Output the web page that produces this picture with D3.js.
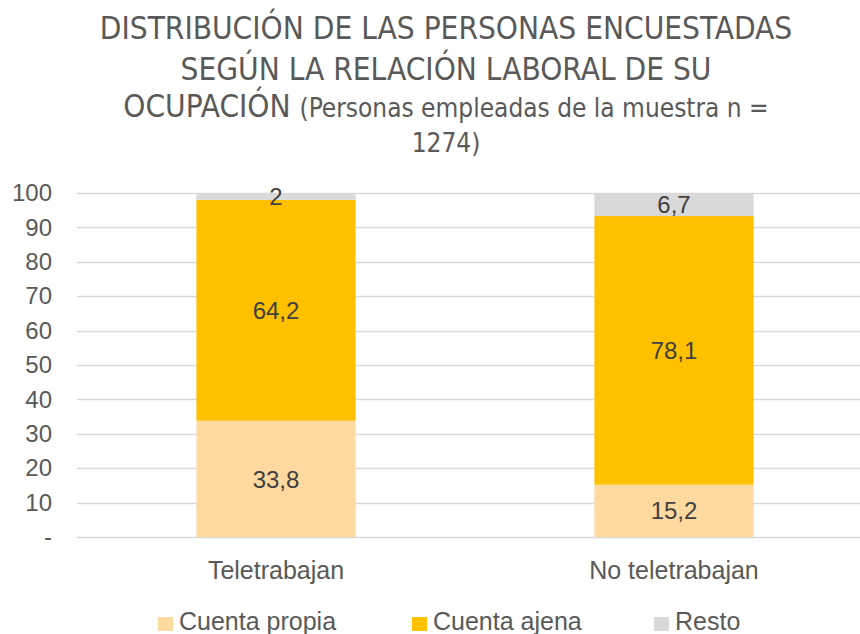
<!DOCTYPE html>
<html>
<head>
<meta charset="utf-8">
<script src="https://cdn.jsdelivr.net/npm/d3@7"></script>
<style>
  body { margin: 0; background: #fff; }
  svg { display: block; }
</style>
</head>
<body>
<div id="chart"></div>
<script>
var categories = ["Teletrabajan", "No teletrabajan"];
var seriesNames = ["Cuenta propia", "Cuenta ajena", "Resto"];
var cuentaPropia = [33.8, 15.2];
var cuentaAjena = [64.2, 78.1];
var resto = [2, 6.7];
var yTicks = [0, 10, 20, 30, 40, 50, 60, 70, 80, 90, 100];
var colors = ["#FFD9A0", "#FFC000", "#D9D9D9"];

var width = 860, height = 634;
var margin = { left: 77, right: -13, top: 193, bottom: 97 };
var textColor = "#595959";
var titleFont = "'Liberation Sans Narrow', 'DejaVu Sans Condensed', 'Liberation Sans', sans-serif";
var font = "'Liberation Sans', Arial, sans-serif";
var titleX = 446;

var svg = d3.select("#chart").append("svg")
    .attr("width", width)
    .attr("height", height);

// title
var title = svg.append("text")
    .attr("text-anchor", "middle")
    .attr("fill", textColor)
    .style("font-family", titleFont);
title.append("tspan").attr("x", titleX).attr("y", 39).style("font-size", "31.3px")
    .text("DISTRIBUCIÓN DE LAS PERSONAS ENCUESTADAS");
title.append("tspan").attr("x", titleX).attr("y", 80).style("font-size", "31.3px")
    .text("SEGÚN LA RELACIÓN LABORAL DE SU");
var l3 = svg.append("text")
    .attr("x", titleX).attr("y", 117)
    .attr("text-anchor", "middle")
    .attr("fill", textColor)
    .style("font-family", titleFont);
l3.append("tspan").style("font-size", "31.3px").text("OCUPACIÓN ");
l3.append("tspan").style("font-size", "26px").text("(Personas empleadas de la muestra n =");
svg.append("text")
    .attr("x", titleX).attr("y", 152)
    .attr("text-anchor", "middle")
    .attr("fill", textColor)
    .style("font-family", titleFont)
    .style("font-size", "26px")
    .text("1274)");

var x = d3.scaleBand()
    .domain(categories)
    .range([margin.left, width - margin.right])
    .padding(0);

var y = d3.scaleLinear()
    .domain([0, 100])
    .range([height - margin.bottom, margin.top]);

// gridlines
svg.append("g").selectAll("line")
    .data(yTicks)
    .enter().append("line")
    .attr("x1", margin.left)
    .attr("x2", width - margin.right)
    .attr("y1", function (d) { return Math.round(y(d)) + 0.5; })
    .attr("y2", function (d) { return Math.round(y(d)) + 0.5; })
    .attr("stroke", "#D9D9D9")
    .attr("stroke-width", 1.3);

// y axis labels
var yAxis = d3.axisLeft(y)
    .tickValues(yTicks)
    .tickSize(0)
    .tickPadding(0)
    .tickFormat(function (d) { return d === 0 ? "-" : d; });
var yg = svg.append("g")
    .attr("transform", "translate(52,0)")
    .call(yAxis);
yg.select(".domain").remove();
yg.selectAll("text")
    .attr("fill", textColor)
    .style("font-family", font)
    .style("font-size", "24px");

// stacked data
var rows = categories.map(function (c, i) {
    return { cat: c, "Cuenta propia": cuentaPropia[i], "Cuenta ajena": cuentaAjena[i], "Resto": resto[i] };
});
var stack = d3.stack().keys(seriesNames)(rows);

var barW = x.bandwidth() * 0.4;

var layers = svg.append("g").selectAll("g")
    .data(stack)
    .enter().append("g")
    .attr("fill", function (d, i) { return colors[i]; });

layers.selectAll("rect")
    .data(function (d) { return d; })
    .enter().append("rect")
    .attr("x", function (d) { return x(d.data.cat) + (x.bandwidth() - barW) / 2; })
    .attr("width", barW)
    .attr("y", function (d) { return y(d[1]); })
    .attr("height", function (d) { return y(d[0]) - y(d[1]); });

layers.selectAll("text")
    .data(function (d) { return d.map(function (v) { v.key = d.key; return v; }); })
    .enter().append("text")
    .attr("x", function (d) { return x(d.data.cat) + x.bandwidth() / 2; })
    .attr("y", function (d) { return (y(d[0]) + y(d[1])) / 2; })
    .attr("dy", "0.36em")
    .attr("text-anchor", "middle")
    .attr("fill", "#404040")
    .style("font-family", font)
    .style("font-size", "24px")
    .text(function (d) { return String(d.data[d.key]).replace(".", ","); });

// category labels
var xAxis = d3.axisBottom(x).tickSize(0).tickPadding(0);
var xg = svg.append("g")
    .attr("transform", "translate(0,579)")
    .call(xAxis);
xg.select(".domain").remove();
xg.selectAll("text")
    .attr("dy", 0)
    .attr("fill", textColor)
    .style("font-family", font)
    .style("font-size", "25px");

// legend
var legendX = [158, 412, 654];
var legend = svg.append("g").selectAll("g")
    .data(seriesNames)
    .enter().append("g")
    .attr("transform", function (d, i) { return "translate(" + legendX[i] + ",630)"; });
legend.append("rect")
    .attr("y", -13)
    .attr("width", 15)
    .attr("height", 14)
    .attr("fill", function (d, i) { return colors[i]; });
legend.append("text")
    .attr("x", 21)
    .attr("fill", textColor)
    .style("font-family", font)
    .style("font-size", "25px")
    .text(function (d) { return d; });
</script>
</body>
</html>
